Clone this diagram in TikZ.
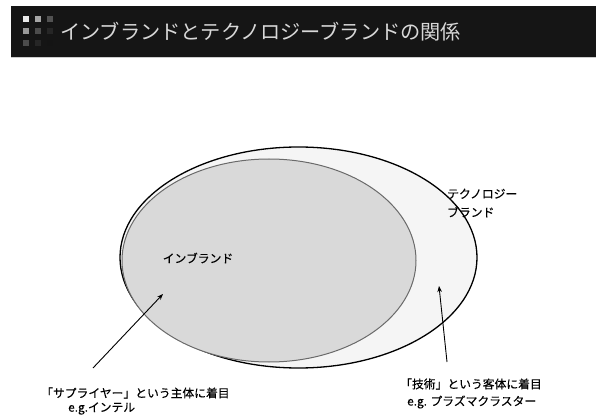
\documentclass[tikz,border=0pt]{standalone}
\usepackage{fontspec}
\setmainfont{Noto Sans CJK JP}
\newfontfamily\lblfont[FakeBold=0.2]{Noto Sans CJK JP}
\usetikzlibrary{arrows.meta}
\definecolor{barbg}{HTML}{151515}
\definecolor{outerfill}{HTML}{F5F5F5}
\definecolor{innerfill}{HTML}{D9D9D9}
\definecolor{innerline}{HTML}{6A6A6A}
\definecolor{titletext}{HTML}{D8D8D8}
\tikzset{
  lbl/.style={font=\lblfont\fontsize{11.8}{18.5}\selectfont, inner sep=0pt, text=black},
  pointer/.style={draw=black, line width=0.9pt, -{Stealth[length=6pt,width=4.5pt]}},
  sq/.style={minimum size=6pt, inner sep=0pt, draw=none}
}
\begin{document}
\begin{tikzpicture}[x=1pt,y=-1pt]
\useasboundingbox (0,0) rectangle (596,419);
\fill[white] (0,0) rectangle (596,419);
% title bar
\fill[barbg] (11,6) rectangle (596,57);
\fill[black!20] (11,57) rectangle (596,58.5);
% icon
\node[sq, fill=black!8] at (26,19.5) {};
\node[sq, fill=black!35] at (38,19.5) {};
\node[sq, fill=black!68] at (49.5,19.5) {};
\node[sq, fill=black!40] at (26,31) {};
\node[sq, fill=black!70] at (38,31) {};
\node[sq, fill=black!85] at (49.5,31) {};
\node[sq, fill=black!70] at (26,43) {};
\node[sq, fill=black!85] at (38,43) {};
\node[sq, fill=black!92] at (49.5,43) {};
\node[anchor=west, inner sep=0pt, text=titletext, font=\fontsize{20.2}{22}\selectfont] (title) at (60,32) {インブランドとテクノロジーブランドの関係};
% ellipses
\draw[fill=outerfill, draw=black, line width=1.3pt] (298.5,257.5) ellipse [x radius=178.5, y radius=110.5];
\draw[fill=innerfill, draw=innerline, line width=1pt] (269,260.5) ellipse [x radius=147, y radius=101.5];
% labels
\node[lbl] (inbrand) at (198,258) {インブランド};
\node[lbl, anchor=west, align=left] (techbrand) at (447,203) {テクノロジー\\ブランド};
\node[lbl, anchor=west] (supl1) at (41,393) {「サプライヤー」という主体に着目};
\node[lbl, anchor=west] (supl2) at (68,408.5) {e.g.インテル};
\node[lbl, anchor=west] (tech1) at (400,384) {「技術」という客体に着目};
\node[lbl, anchor=west] (tech2) at (407,402) {e.g. プラズマクラスター};
% arrows
\coordinate (a1s) at (93,368);
\coordinate (a1e) at (163,294);
\coordinate (a2s) at (447,362);
\coordinate (a2e) at (439,286);
\draw[pointer] (a1s) -- (a1e);
\draw[pointer] (a2s) -- (a2e);
\end{tikzpicture}
\end{document}
